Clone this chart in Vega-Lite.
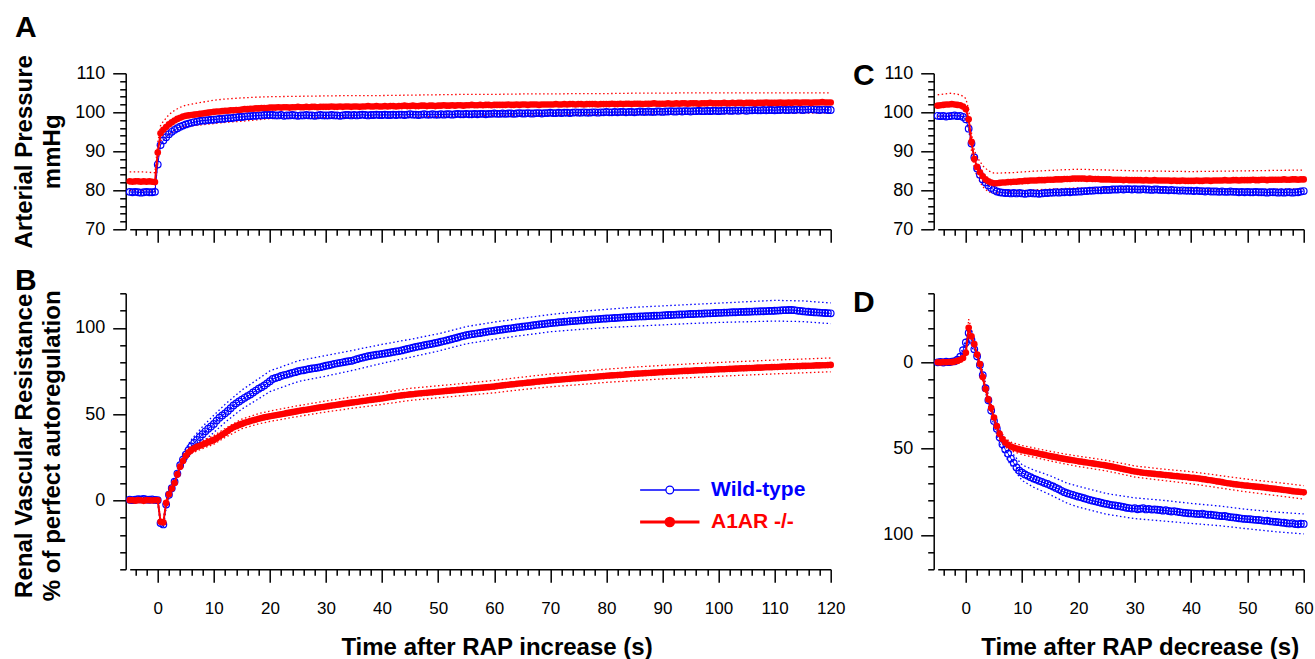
{
"$schema": "https://vega.github.io/schema/vega-lite/v6.json",
"autosize": {"type": "none"},
"padding": {"left": 129.7, "top": 73.3, "right": 1185.3, "bottom": 585.7},
"background": "#ffffff",
"config": {
  "font": "Liberation Sans",
  "view": {"stroke": null},
  "axis": {"grid": false, "domainColor": "#000000", "domainWidth": 1.5, "tickColor": "#000000", "tickWidth": 1.5, "labelColor": "#000000", "labelFont": "Liberation Sans", "labelFontSize": 17, "titleColor": "#000000", "titleFont": "Liberation Sans", "titleFontSize": 24, "titleFontWeight": "bold", "labelFlush": false, "labelOverlap": false},
  "title": {"font": "Liberation Sans", "fontSize": 30, "fontWeight": "bold", "color": "#000000", "anchor": "start", "frame": "group", "offset": 0, "baseline": "alphabetic"},
  "line": {"strokeCap": "butt"}
},
"datasets": {
"L": [
{"t":-5,"a":79.6,"k":82.3,"b":0.3,"r":0.1},{"t":-4.5,"a":79.5,"k":82.2,"b":0.1,"r":0.0},{"t":-4,"a":79.6,"k":82.3,"b":0.4,"r":-0.2},{"t":-3.5,"a":79.5,"k":82.3,"b":0.6,"r":0.1},{"t":-3,"a":79.4,"k":82.2,"b":0.5,"r":0.0},{"t":-2.5,"a":79.5,"k":82.3,"b":0.8,"r":-0.3},{"t":-2,"a":79.6,"k":82.2,"b":0.4,"r":0.1},{"t":-1.5,"a":79.5,"k":82.3,"b":0.3,"r":0.0},{"t":-1,"a":79.5,"k":82.2,"b":0.5,"r":-0.1},{"t":-0.5,"a":79.6,"k":82.1,"b":0.2,"r":0.0},
{"t":0,"a":86.6,"k":89.7,"b":0.1,"r":0.0},
{"t":0.5,"a":91.6,"k":94.6,"b":-13.2,"r":-12.5},{"t":1,"a":92.8,"k":95.5,"b":-14.0,"r":-12.8},{"t":1.5,"a":93.6,"k":96.2,"b":-2.5,"r":-1.5},{"t":2,"a":94.4,"k":96.9,"b":3.2,"r":3.5},{"t":2.5,"a":95.0,"k":97.4,"b":7.0,"r":6.8},{"t":3,"a":95.5,"k":97.9,"b":10.8,"r":10.0},{"t":3.5,"a":95.9,"k":98.3,"b":15.5,"r":15.0},{"t":4,"a":96.3,"k":98.6,"b":20.3,"r":19.5},{"t":4.5,"a":96.6,"k":98.9,"b":23.6,"r":22.8},{"t":5,"a":96.9,"k":99.1,"b":26.5,"r":25.8},
{"t":5.5,"a":97.1,"k":99.2,"b":29.0,"r":27.8},{"t":6,"a":97.3,"k":99.3,"b":31.2,"r":29.2},{"t":6.5,"a":97.5,"k":99.4,"b":33.2,"r":30.2},{"t":7,"a":97.6,"k":99.5,"b":35.0,"r":31.0},{"t":7.5,"a":97.8,"k":99.6,"b":36.7,"r":31.6},{"t":8,"a":97.9,"k":99.7,"b":38.3,"r":32.3},{"t":8.5,"a":97.9,"k":99.8,"b":40.0,"r":33.0},{"t":9,"a":98.0,"k":99.9,"b":41.5,"r":33.7},{"t":9.5,"a":98.1,"k":100.0,"b":42.8,"r":34.3},{"t":10,"a":98.1,"k":100.1,"b":44.3,"r":35.0},
{"t":10.5,"a":98.2,"k":100.2,"b":46.2,"r":36.0},{"t":11,"a":98.3,"k":100.2,"b":47.9,"r":37.0},{"t":11.5,"a":98.3,"k":100.3,"b":49.2,"r":38.0},{"t":12,"a":98.4,"k":100.4,"b":50.4,"r":39.0},{"t":12.5,"a":98.5,"k":100.4,"b":51.8,"r":40.2},{"t":13,"a":98.5,"k":100.5,"b":53.4,"r":41.3},{"t":13.5,"a":98.6,"k":100.5,"b":55.0,"r":42.3},{"t":14,"a":98.7,"k":100.6,"b":56.2,"r":43.0},{"t":14.5,"a":98.8,"k":100.6,"b":57.3,"r":43.7},{"t":15,"a":98.8,"k":100.7,"b":58.4,"r":44.3},
{"t":15.5,"a":98.9,"k":100.8,"b":59.4,"r":44.9},{"t":16,"a":99.0,"k":100.8,"b":60.4,"r":45.4},{"t":16.5,"a":99.0,"k":100.9,"b":61.3,"r":45.9},{"t":17,"a":99.1,"k":100.9,"b":62.5,"r":46.4},{"t":17.5,"a":99.1,"k":101.0,"b":63.6,"r":46.8},{"t":18,"a":99.2,"k":101.0,"b":64.7,"r":47.3},{"t":18.5,"a":99.2,"k":101.1,"b":65.6,"r":47.7},{"t":19,"a":99.3,"k":101.1,"b":66.6,"r":48.1},{"t":19.5,"a":99.3,"k":101.1,"b":67.8,"r":48.4},{"t":20,"a":99.3,"k":101.2,"b":69.0,"r":48.7},
{"t":20.5,"a":99.3,"k":101.2,"b":70.3,"r":49.0},{"t":21,"a":99.2,"k":101.2,"b":70.9,"r":49.3},{"t":21.5,"a":99.2,"k":101.3,"b":71.4,"r":49.6},{"t":22,"a":99.3,"k":101.2,"b":72.1,"r":49.9},{"t":22.5,"a":99.1,"k":101.3,"b":72.6,"r":50.2},{"t":23,"a":99.2,"k":101.3,"b":72.9,"r":50.5},{"t":23.5,"a":99.2,"k":101.2,"b":73.4,"r":50.8},{"t":24,"a":99.3,"k":101.3,"b":73.9,"r":51.1},{"t":24.5,"a":99.2,"k":101.3,"b":74.3,"r":51.4},{"t":25,"a":99.1,"k":101.4,"b":74.8,"r":51.7},
{"t":25.5,"a":99.2,"k":101.3,"b":75.2,"r":52.0},{"t":26,"a":99.2,"k":101.3,"b":75.4,"r":52.3},{"t":26.5,"a":99.3,"k":101.4,"b":75.8,"r":52.5},{"t":27,"a":99.2,"k":101.3,"b":76.1,"r":52.8},{"t":27.5,"a":99.2,"k":101.4,"b":76.4,"r":53.1},{"t":28,"a":99.1,"k":101.4,"b":76.6,"r":53.3},{"t":28.5,"a":99.2,"k":101.3,"b":76.9,"r":53.6},{"t":29,"a":99.3,"k":101.4,"b":77.2,"r":53.9},{"t":29.5,"a":99.2,"k":101.4,"b":77.6,"r":54.1},{"t":30,"a":99.2,"k":101.4,"b":78.0,"r":54.4},
{"t":30.5,"a":99.2,"k":101.4,"b":78.3,"r":54.6},{"t":31,"a":99.3,"k":101.5,"b":78.7,"r":54.9},{"t":31.5,"a":99.2,"k":101.4,"b":79.1,"r":55.1},{"t":32,"a":99.2,"k":101.4,"b":79.4,"r":55.4},{"t":32.5,"a":99.1,"k":101.5,"b":79.7,"r":55.6},{"t":33,"a":99.2,"k":101.4,"b":80.0,"r":55.9},{"t":33.5,"a":99.3,"k":101.5,"b":80.3,"r":56.1},{"t":34,"a":99.3,"k":101.5,"b":80.6,"r":56.3},{"t":34.5,"a":99.2,"k":101.4,"b":80.8,"r":56.6},{"t":35,"a":99.3,"k":101.5,"b":81.3,"r":56.8},
{"t":35.5,"a":99.2,"k":101.5,"b":81.8,"r":57.0},{"t":36,"a":99.3,"k":101.4,"b":82.3,"r":57.3},{"t":36.5,"a":99.4,"k":101.5,"b":82.7,"r":57.5},{"t":37,"a":99.3,"k":101.5,"b":83.1,"r":57.7},{"t":37.5,"a":99.2,"k":101.6,"b":83.5,"r":58.0},{"t":38,"a":99.3,"k":101.5,"b":83.8,"r":58.2},{"t":38.5,"a":99.3,"k":101.5,"b":84.1,"r":58.4},{"t":39,"a":99.4,"k":101.6,"b":84.4,"r":58.6},{"t":39.5,"a":99.3,"k":101.5,"b":84.6,"r":58.8},{"t":40,"a":99.3,"k":101.5,"b":84.9,"r":59.0},
{"t":40.5,"a":99.4,"k":101.6,"b":85.1,"r":59.3},{"t":41,"a":99.3,"k":101.5,"b":85.4,"r":59.6},{"t":41.5,"a":99.3,"k":101.6,"b":85.7,"r":59.9},{"t":42,"a":99.4,"k":101.6,"b":86.0,"r":60.1},{"t":42.5,"a":99.3,"k":101.5,"b":86.3,"r":60.4},{"t":43,"a":99.4,"k":101.6,"b":86.5,"r":60.6},{"t":43.5,"a":99.4,"k":101.6,"b":86.9,"r":60.8},{"t":44,"a":99.3,"k":101.7,"b":87.3,"r":61.0},{"t":44.5,"a":99.4,"k":101.6,"b":87.7,"r":61.2},{"t":45,"a":99.5,"k":101.6,"b":88.1,"r":61.4},
{"t":45.5,"a":99.4,"k":101.7,"b":88.5,"r":61.5},{"t":46,"a":99.4,"k":101.6,"b":88.9,"r":61.7},{"t":46.5,"a":99.3,"k":101.6,"b":89.2,"r":61.9},{"t":47,"a":99.4,"k":101.7,"b":89.5,"r":62.0},{"t":47.5,"a":99.5,"k":101.7,"b":89.9,"r":62.2},{"t":48,"a":99.4,"k":101.6,"b":90.2,"r":62.3},{"t":48.5,"a":99.4,"k":101.7,"b":90.5,"r":62.5},{"t":49,"a":99.5,"k":101.7,"b":90.8,"r":62.6},{"t":49.5,"a":99.4,"k":101.6,"b":91.2,"r":62.8},{"t":50,"a":99.4,"k":101.7,"b":91.5,"r":62.9},
{"t":50.5,"a":99.5,"k":101.7,"b":91.9,"r":63.1},{"t":51,"a":99.4,"k":101.8,"b":92.3,"r":63.2},{"t":51.5,"a":99.5,"k":101.7,"b":92.7,"r":63.4},{"t":52,"a":99.5,"k":101.7,"b":93.1,"r":63.5},{"t":52.5,"a":99.4,"k":101.8,"b":93.5,"r":63.7},{"t":53,"a":99.5,"k":101.7,"b":94.0,"r":63.8},{"t":53.5,"a":99.6,"k":101.8,"b":94.4,"r":64.0},{"t":54,"a":99.5,"k":101.8,"b":94.9,"r":64.1},{"t":54.5,"a":99.5,"k":101.7,"b":95.3,"r":64.3},{"t":55,"a":99.6,"k":101.8,"b":95.7,"r":64.4},
{"t":55.5,"a":99.5,"k":101.8,"b":96.0,"r":64.6},{"t":56,"a":99.5,"k":101.9,"b":96.3,"r":64.7},{"t":56.5,"a":99.6,"k":101.8,"b":96.5,"r":64.9},{"t":57,"a":99.5,"k":101.8,"b":96.8,"r":65.0},{"t":57.5,"a":99.6,"k":101.9,"b":97.0,"r":65.2},{"t":58,"a":99.6,"k":101.8,"b":97.3,"r":65.3},{"t":58.5,"a":99.5,"k":101.9,"b":97.6,"r":65.5},{"t":59,"a":99.6,"k":101.9,"b":97.9,"r":65.6},{"t":59.5,"a":99.6,"k":101.8,"b":98.1,"r":65.8},{"t":60,"a":99.7,"k":101.9,"b":98.3,"r":65.9},
{"t":60.5,"a":99.6,"k":101.9,"b":98.6,"r":66.2},{"t":61,"a":99.6,"k":101.9,"b":98.8,"r":66.4},{"t":61.5,"a":99.7,"k":101.9,"b":99.0,"r":66.6},{"t":62,"a":99.6,"k":101.9,"b":99.3,"r":66.8},{"t":62.5,"a":99.7,"k":102.0,"b":99.5,"r":67.0},{"t":63,"a":99.7,"k":101.9,"b":99.7,"r":67.2},{"t":63.5,"a":99.6,"k":101.9,"b":99.9,"r":67.3},{"t":64,"a":99.7,"k":102.0,"b":100.2,"r":67.5},{"t":64.5,"a":99.8,"k":101.9,"b":100.4,"r":67.7},{"t":65,"a":99.7,"k":102.0,"b":100.6,"r":67.8},
{"t":65.5,"a":99.7,"k":102.0,"b":100.8,"r":68.0},{"t":66,"a":99.8,"k":101.9,"b":101.0,"r":68.2},{"t":66.5,"a":99.7,"k":102.0,"b":101.2,"r":68.3},{"t":67,"a":99.7,"k":102.0,"b":101.5,"r":68.5},{"t":67.5,"a":99.8,"k":102.0,"b":101.7,"r":68.7},{"t":68,"a":99.8,"k":101.9,"b":101.9,"r":68.8},{"t":68.5,"a":99.7,"k":102.0,"b":102.1,"r":69.0},{"t":69,"a":99.8,"k":102.0,"b":102.3,"r":69.1},{"t":69.5,"a":99.8,"k":102.0,"b":102.5,"r":69.3},{"t":70,"a":99.9,"k":102.0,"b":102.7,"r":69.5},
{"t":70.5,"a":99.8,"k":102.0,"b":102.9,"r":69.6},{"t":71,"a":99.8,"k":102.1,"b":103.0,"r":69.8},{"t":71.5,"a":99.9,"k":102.0,"b":103.2,"r":69.9},{"t":72,"a":99.8,"k":102.0,"b":103.3,"r":70.0},{"t":72.5,"a":99.9,"k":102.1,"b":103.5,"r":70.2},{"t":73,"a":99.9,"k":102.0,"b":103.6,"r":70.3},{"t":73.5,"a":99.8,"k":102.1,"b":103.8,"r":70.4},{"t":74,"a":99.9,"k":102.1,"b":103.9,"r":70.6},{"t":74.5,"a":100.0,"k":102.0,"b":104.0,"r":70.7},{"t":75,"a":99.9,"k":102.1,"b":104.2,"r":70.8},
{"t":75.5,"a":99.9,"k":102.1,"b":104.3,"r":71.0},{"t":76,"a":100.0,"k":102.0,"b":104.4,"r":71.1},{"t":76.5,"a":99.9,"k":102.1,"b":104.6,"r":71.2},{"t":77,"a":99.9,"k":102.1,"b":104.7,"r":71.4},{"t":77.5,"a":100.0,"k":102.1,"b":104.8,"r":71.5},{"t":78,"a":100.0,"k":102.1,"b":104.9,"r":71.6},{"t":78.5,"a":99.9,"k":102.0,"b":105.0,"r":71.8},{"t":79,"a":100.0,"k":102.1,"b":105.2,"r":71.9},{"t":79.5,"a":100.0,"k":102.1,"b":105.3,"r":72.0},{"t":80,"a":100.1,"k":102.1,"b":105.4,"r":72.2},
{"t":80.5,"a":100.0,"k":102.1,"b":105.5,"r":72.3},{"t":81,"a":100.0,"k":102.2,"b":105.6,"r":72.4},{"t":81.5,"a":100.1,"k":102.1,"b":105.7,"r":72.5},{"t":82,"a":100.0,"k":102.1,"b":105.8,"r":72.6},{"t":82.5,"a":100.1,"k":102.2,"b":105.9,"r":72.7},{"t":83,"a":100.1,"k":102.1,"b":106.0,"r":72.8},{"t":83.5,"a":100.0,"k":102.2,"b":106.1,"r":73.0},{"t":84,"a":100.1,"k":102.2,"b":106.2,"r":73.1},{"t":84.5,"a":100.1,"k":102.1,"b":106.3,"r":73.2},{"t":85,"a":100.0,"k":102.2,"b":106.4,"r":73.3},
{"t":85.5,"a":100.1,"k":102.2,"b":106.5,"r":73.4},{"t":86,"a":100.2,"k":102.2,"b":106.6,"r":73.5},{"t":86.5,"a":100.1,"k":102.1,"b":106.6,"r":73.6},{"t":87,"a":100.1,"k":102.2,"b":106.7,"r":73.7},{"t":87.5,"a":100.2,"k":102.2,"b":106.8,"r":73.8},{"t":88,"a":100.1,"k":102.2,"b":106.9,"r":73.9},{"t":88.5,"a":100.1,"k":102.3,"b":107.0,"r":74.0},{"t":89,"a":100.2,"k":102.2,"b":107.0,"r":74.1},{"t":89.5,"a":100.2,"k":102.2,"b":107.1,"r":74.2},{"t":90,"a":100.1,"k":102.2,"b":107.2,"r":74.3},
{"t":90.5,"a":100.2,"k":102.2,"b":107.3,"r":74.4},{"t":91,"a":100.2,"k":102.3,"b":107.4,"r":74.5},{"t":91.5,"a":100.3,"k":102.2,"b":107.4,"r":74.5},{"t":92,"a":100.2,"k":102.2,"b":107.5,"r":74.6},{"t":92.5,"a":100.2,"k":102.3,"b":107.6,"r":74.7},{"t":93,"a":100.3,"k":102.2,"b":107.7,"r":74.8},{"t":93.5,"a":100.2,"k":102.3,"b":107.7,"r":74.9},{"t":94,"a":100.3,"k":102.3,"b":107.8,"r":75.0},{"t":94.5,"a":100.3,"k":102.2,"b":107.9,"r":75.0},{"t":95,"a":100.2,"k":102.3,"b":108.0,"r":75.1},
{"t":95.5,"a":100.3,"k":102.3,"b":108.0,"r":75.2},{"t":96,"a":100.3,"k":102.3,"b":108.1,"r":75.3},{"t":96.5,"a":100.4,"k":102.2,"b":108.2,"r":75.4},{"t":97,"a":100.3,"k":102.3,"b":108.2,"r":75.4},{"t":97.5,"a":100.3,"k":102.3,"b":108.3,"r":75.5},{"t":98,"a":100.4,"k":102.3,"b":108.4,"r":75.6},{"t":98.5,"a":100.3,"k":102.4,"b":108.4,"r":75.7},{"t":99,"a":100.4,"k":102.3,"b":108.5,"r":75.7},{"t":99.5,"a":100.4,"k":102.3,"b":108.6,"r":75.8},{"t":100,"a":100.3,"k":102.3,"b":108.7,"r":75.9},
{"t":100.5,"a":100.4,"k":102.3,"b":108.7,"r":76.0},{"t":101,"a":100.4,"k":102.4,"b":108.8,"r":76.0},{"t":101.5,"a":100.5,"k":102.3,"b":108.8,"r":76.1},{"t":102,"a":100.4,"k":102.3,"b":108.9,"r":76.2},{"t":102.5,"a":100.4,"k":102.4,"b":109.0,"r":76.2},{"t":103,"a":100.5,"k":102.3,"b":109.0,"r":76.3},{"t":103.5,"a":100.4,"k":102.4,"b":109.1,"r":76.4},{"t":104,"a":100.5,"k":102.4,"b":109.2,"r":76.5},{"t":104.5,"a":100.5,"k":102.3,"b":109.2,"r":76.5},{"t":105,"a":100.4,"k":102.4,"b":109.3,"r":76.6},
{"t":105.5,"a":100.5,"k":102.4,"b":109.3,"r":76.7},{"t":106,"a":100.5,"k":102.4,"b":109.4,"r":76.7},{"t":106.5,"a":100.6,"k":102.3,"b":109.5,"r":76.8},{"t":107,"a":100.5,"k":102.4,"b":109.5,"r":76.9},{"t":107.5,"a":100.5,"k":102.4,"b":109.6,"r":76.9},{"t":108,"a":100.6,"k":102.4,"b":109.6,"r":77.0},{"t":108.5,"a":100.5,"k":102.5,"b":109.7,"r":77.1},{"t":109,"a":100.6,"k":102.4,"b":109.8,"r":77.1},{"t":109.5,"a":100.6,"k":102.4,"b":109.8,"r":77.2},{"t":110,"a":100.5,"k":102.4,"b":109.9,"r":77.3},
{"t":110.5,"a":100.6,"k":102.4,"b":110.0,"r":77.3},{"t":111,"a":100.6,"k":102.5,"b":110.1,"r":77.4},{"t":111.5,"a":100.7,"k":102.4,"b":110.2,"r":77.5},{"t":112,"a":100.6,"k":102.4,"b":110.2,"r":77.5},{"t":112.5,"a":100.6,"k":102.5,"b":110.3,"r":77.6},{"t":113,"a":100.7,"k":102.4,"b":110.3,"r":77.6},{"t":113.5,"a":100.6,"k":102.5,"b":110.2,"r":77.7},{"t":114,"a":100.7,"k":102.5,"b":110.0,"r":77.8},{"t":114.5,"a":100.7,"k":102.4,"b":109.8,"r":77.8},{"t":115,"a":100.6,"k":102.5,"b":109.6,"r":77.9},
{"t":115.5,"a":100.7,"k":102.5,"b":109.4,"r":77.9},{"t":116,"a":100.7,"k":102.5,"b":109.3,"r":78.0},{"t":116.5,"a":100.8,"k":102.4,"b":109.1,"r":78.0},{"t":117,"a":100.7,"k":102.5,"b":109.0,"r":78.1},{"t":117.5,"a":100.7,"k":102.5,"b":108.9,"r":78.2},{"t":118,"a":100.6,"k":102.5,"b":108.8,"r":78.2},{"t":118.5,"a":100.7,"k":102.6,"b":108.7,"r":78.3},{"t":119,"a":100.7,"k":102.5,"b":108.6,"r":78.3},{"t":119.5,"a":100.6,"k":102.5,"b":108.5,"r":78.4},{"t":120,"a":100.6,"k":102.5,"b":108.4,"r":78.5}
],
"R": [
{"t":-5,"c":99.1,"q":101.7,"d":0.0,"e":0.0},{"t":-4.5,"c":99.0,"q":101.8,"d":-0.2,"e":0.1},{"t":-4,"c":99.1,"q":101.9,"d":0.1,"e":-0.1},{"t":-3.5,"c":98.9,"q":102.0,"d":-0.3,"e":0.0},{"t":-3,"c":99.0,"q":102.0,"d":-0.1,"e":-0.2},{"t":-2.5,"c":99.1,"q":102.1,"d":-0.4,"e":-0.1},{"t":-2,"c":99.2,"q":102.0,"d":-0.6,"e":-0.4},{"t":-1.5,"c":99.0,"q":101.9,"d":-1.5,"e":-0.8},{"t":-1,"c":99.1,"q":101.8,"d":-3.2,"e":-1.5},{"t":-0.5,"c":98.8,"q":101.5,"d":-7.0,"e":-2.5},
{"t":0,"c":98.2,"q":100.8,"d":-11.5,"e":-5.5},{"t":0.5,"c":95.8,"q":98.2,"d":-17.0,"e":-20.0},{"t":1,"c":92.0,"q":92.4,"d":-13.0,"e":-15.0},{"t":1.5,"c":88.4,"q":88.0,"d":-7.5,"e":-10.5},{"t":2,"c":85.6,"q":86.0,"d":-3.5,"e":-4.5},{"t":2.5,"c":84.0,"q":84.6,"d":1.5,"e":1.0},{"t":3,"c":82.8,"q":83.6,"d":7.5,"e":8.5},{"t":3.5,"c":82.0,"q":82.8,"d":15.0,"e":15.5},{"t":4,"c":81.2,"q":82.3,"d":22.0,"e":21.5},{"t":4.5,"c":80.6,"q":82.0,"d":28.0,"e":26.5},
{"t":5,"c":80.1,"q":81.8,"d":34.0,"e":32.0},{"t":5.5,"c":79.7,"q":81.8,"d":38.5,"e":37.0},{"t":6,"c":79.5,"q":81.9,"d":43.5,"e":41.5},{"t":6.5,"c":79.4,"q":82.0,"d":47.5,"e":44.5},{"t":7,"c":79.3,"q":82.0,"d":50.5,"e":46.5},{"t":7.5,"c":79.3,"q":82.1,"d":53.0,"e":47.8},{"t":8,"c":79.2,"q":82.1,"d":55.8,"e":48.8},{"t":8.5,"c":79.3,"q":82.2,"d":58.3,"e":49.5},{"t":9,"c":79.2,"q":82.2,"d":61.0,"e":50.0},{"t":9.5,"c":79.3,"q":82.3,"d":62.8,"e":50.5},
{"t":10,"c":79.2,"q":82.3,"d":64.0,"e":50.9},{"t":10.5,"c":79.1,"q":82.4,"d":65.0,"e":51.3},{"t":11,"c":79.2,"q":82.4,"d":65.8,"e":51.6},{"t":11.5,"c":79.3,"q":82.5,"d":66.6,"e":51.9},{"t":12,"c":79.2,"q":82.5,"d":67.4,"e":52.3},{"t":12.5,"c":79.2,"q":82.5,"d":68.0,"e":52.6},{"t":13,"c":79.1,"q":82.6,"d":68.7,"e":53.0},{"t":13.5,"c":79.2,"q":82.6,"d":69.3,"e":53.4},{"t":14,"c":79.3,"q":82.6,"d":70.0,"e":53.7},{"t":14.5,"c":79.3,"q":82.7,"d":70.5,"e":54.0},
{"t":15,"c":79.4,"q":82.7,"d":71.3,"e":54.4},{"t":15.5,"c":79.4,"q":82.7,"d":72.0,"e":54.7},{"t":16,"c":79.5,"q":82.8,"d":72.8,"e":55.0},{"t":16.5,"c":79.4,"q":82.8,"d":73.6,"e":55.4},{"t":17,"c":79.5,"q":82.8,"d":74.5,"e":55.7},{"t":17.5,"c":79.5,"q":82.9,"d":75.3,"e":56.0},{"t":18,"c":79.6,"q":82.9,"d":75.9,"e":56.3},{"t":18.5,"c":79.5,"q":82.9,"d":76.4,"e":56.6},{"t":19,"c":79.6,"q":83.0,"d":76.9,"e":56.8},{"t":19.5,"c":79.6,"q":83.0,"d":77.4,"e":57.1},
{"t":20,"c":79.7,"q":83.0,"d":77.9,"e":57.4},{"t":20.5,"c":79.7,"q":83.0,"d":78.3,"e":57.6},{"t":21,"c":79.8,"q":83.0,"d":78.8,"e":57.9},{"t":21.5,"c":79.8,"q":82.9,"d":79.3,"e":58.1},{"t":22,"c":79.9,"q":83.0,"d":79.8,"e":58.4},{"t":22.5,"c":79.9,"q":82.9,"d":80.2,"e":58.6},{"t":23,"c":80.0,"q":82.9,"d":80.6,"e":58.9},{"t":23.5,"c":80.0,"q":82.9,"d":81.0,"e":59.1},{"t":24,"c":80.0,"q":82.8,"d":81.4,"e":59.4},{"t":24.5,"c":80.1,"q":82.8,"d":81.8,"e":59.6},
{"t":25,"c":80.1,"q":82.8,"d":82.1,"e":59.9},{"t":25.5,"c":80.1,"q":82.8,"d":82.5,"e":60.2},{"t":26,"c":80.2,"q":82.7,"d":82.8,"e":60.5},{"t":26.5,"c":80.2,"q":82.7,"d":83.0,"e":60.9},{"t":27,"c":80.2,"q":82.7,"d":83.3,"e":61.2},{"t":27.5,"c":80.3,"q":82.7,"d":83.6,"e":61.6},{"t":28,"c":80.2,"q":82.6,"d":83.9,"e":61.9},{"t":28.5,"c":80.3,"q":82.7,"d":84.3,"e":62.3},{"t":29,"c":80.3,"q":82.6,"d":84.5,"e":62.6},{"t":29.5,"c":80.2,"q":82.6,"d":84.8,"e":63.0},
{"t":30,"c":80.3,"q":82.6,"d":84.6,"e":63.3},{"t":30.5,"c":80.2,"q":82.6,"d":85.2,"e":63.5},{"t":31,"c":80.2,"q":82.6,"d":84.9,"e":63.8},{"t":31.5,"c":80.3,"q":82.5,"d":84.6,"e":64.0},{"t":32,"c":80.2,"q":82.6,"d":85.3,"e":64.2},{"t":32.5,"c":80.2,"q":82.5,"d":85.0,"e":64.4},{"t":33,"c":80.1,"q":82.5,"d":85.4,"e":64.5},{"t":33.5,"c":80.2,"q":82.6,"d":85.3,"e":64.7},{"t":34,"c":80.2,"q":82.5,"d":85.5,"e":64.9},{"t":34.5,"c":80.1,"q":82.5,"d":85.6,"e":65.0},
{"t":35,"c":80.1,"q":82.5,"d":86.0,"e":65.2},{"t":35.5,"c":80.1,"q":82.5,"d":85.7,"e":65.4},{"t":36,"c":80.0,"q":82.5,"d":86.2,"e":65.5},{"t":36.5,"c":80.1,"q":82.4,"d":86.5,"e":65.7},{"t":37,"c":80.0,"q":82.5,"d":86.3,"e":65.9},{"t":37.5,"c":80.0,"q":82.4,"d":86.6,"e":66.0},{"t":38,"c":79.9,"q":82.4,"d":86.9,"e":66.2},{"t":38.5,"c":80.0,"q":82.5,"d":87.1,"e":66.4},{"t":39,"c":79.9,"q":82.4,"d":87.3,"e":66.5},{"t":39.5,"c":79.9,"q":82.4,"d":87.5,"e":66.7},
{"t":40,"c":79.9,"q":82.4,"d":87.6,"e":66.9},{"t":40.5,"c":79.8,"q":82.4,"d":87.7,"e":67.0},{"t":41,"c":79.9,"q":82.5,"d":87.9,"e":67.2},{"t":41.5,"c":79.8,"q":82.4,"d":88.0,"e":67.4},{"t":42,"c":79.8,"q":82.4,"d":87.7,"e":67.7},{"t":42.5,"c":79.7,"q":82.5,"d":88.2,"e":67.9},{"t":43,"c":79.8,"q":82.5,"d":88.4,"e":68.2},{"t":43.5,"c":79.7,"q":82.4,"d":88.3,"e":68.4},{"t":44,"c":79.7,"q":82.5,"d":88.6,"e":68.7},{"t":44.5,"c":79.7,"q":82.5,"d":88.8,"e":69.0},
{"t":45,"c":79.6,"q":82.5,"d":89.0,"e":69.2},{"t":45.5,"c":79.7,"q":82.5,"d":89.2,"e":69.5},{"t":46,"c":79.6,"q":82.6,"d":89.1,"e":69.8},{"t":46.5,"c":79.6,"q":82.5,"d":89.5,"e":70.1},{"t":47,"c":79.7,"q":82.5,"d":89.8,"e":70.3},{"t":47.5,"c":79.6,"q":82.6,"d":89.9,"e":70.6},{"t":48,"c":79.6,"q":82.6,"d":90.1,"e":70.8},{"t":48.5,"c":79.5,"q":82.5,"d":90.4,"e":71.0},{"t":49,"c":79.6,"q":82.6,"d":90.6,"e":71.2},{"t":49.5,"c":79.5,"q":82.6,"d":90.8,"e":71.4},
{"t":50,"c":79.6,"q":82.6,"d":90.9,"e":71.5},{"t":50.5,"c":79.5,"q":82.6,"d":91.0,"e":71.7},{"t":51,"c":79.5,"q":82.7,"d":91.2,"e":71.9},{"t":51.5,"c":79.6,"q":82.6,"d":91.3,"e":72.1},{"t":52,"c":79.5,"q":82.6,"d":91.4,"e":72.2},{"t":52.5,"c":79.5,"q":82.7,"d":91.6,"e":72.4},{"t":53,"c":79.5,"q":82.7,"d":91.9,"e":72.6},{"t":53.5,"c":79.4,"q":82.6,"d":91.8,"e":72.8},{"t":54,"c":79.5,"q":82.7,"d":92.2,"e":73.0},{"t":54.5,"c":79.5,"q":82.7,"d":92.4,"e":73.2},
{"t":55,"c":79.5,"q":82.7,"d":92.5,"e":73.4},{"t":55.5,"c":79.4,"q":82.7,"d":92.7,"e":73.6},{"t":56,"c":79.5,"q":82.7,"d":92.9,"e":73.8},{"t":56.5,"c":79.4,"q":82.8,"d":93.0,"e":74.0},{"t":57,"c":79.5,"q":82.7,"d":93.3,"e":74.2},{"t":57.5,"c":79.5,"q":82.7,"d":93.5,"e":74.4},{"t":58,"c":79.4,"q":82.8,"d":93.3,"e":74.7},{"t":58.5,"c":79.5,"q":82.8,"d":93.8,"e":74.9},{"t":59,"c":79.5,"q":82.7,"d":93.9,"e":75.0},{"t":59.5,"c":79.7,"q":82.8,"d":93.6,"e":75.2},
{"t":60,"c":79.8,"q":82.8,"d":93.7,"e":75.4}
],
"LB": [
{"t":-5,"khi":84.7,"klo":79.9,"bhi":1.8,"blo":-1.2,"rhi":0.9,"rlo":-0.7},
{"t":-2.5,"khi":84.7,"klo":79.9,"bhi":2.3,"blo":-0.7,"rhi":0.5,"rlo":-1.1},
{"t":-0.5,"khi":84.5,"klo":79.7,"bhi":1.7,"blo":-1.3,"rhi":0.8,"rlo":-0.8},
{"t":0,"khi":92.1,"klo":87.3,"bhi":1.6,"blo":-1.4,"rhi":0.8,"rlo":-0.8},
{"t":0.5,"khi":96.6,"klo":92.6,"bhi":-11.2,"blo":-15.2,"rhi":-11.0,"rlo":-14.0},
{"t":1,"khi":97.7,"klo":93.3,"bhi":-12.0,"blo":-16.0,"rhi":-11.3,"rlo":-14.3},
{"t":1.5,"khi":98.5,"klo":93.9,"bhi":-0.5,"blo":-4.5,"rhi":0.0,"rlo":-3.0},
{"t":2,"khi":99.4,"klo":94.4,"bhi":5.2,"blo":1.2,"rhi":5.2,"rlo":1.8},
{"t":3,"khi":100.5,"klo":95.3,"bhi":13.3,"blo":8.3,"rhi":12.0,"rlo":8.0},
{"t":4,"khi":101.3,"klo":95.9,"bhi":23.3,"blo":17.3,"rhi":21.5,"rlo":17.5},
{"t":5,"khi":101.8,"klo":96.4,"bhi":30.0,"blo":23.0,"rhi":27.8,"rlo":23.8},
{"t":6,"khi":102.1,"klo":96.5,"bhi":35.2,"blo":27.2,"rhi":31.2,"rlo":27.2},
{"t":8,"khi":102.6,"klo":96.8,"bhi":42.8,"blo":33.8,"rhi":34.6,"rlo":30.0},
{"t":10,"khi":103.1,"klo":97.1,"bhi":49.3,"blo":39.3,"rhi":37.5,"rlo":32.5},
{"t":12,"khi":103.4,"klo":97.4,"bhi":55.6,"blo":45.2,"rhi":41.6,"rlo":36.4},
{"t":15,"khi":103.7,"klo":97.7,"bhi":63.9,"blo":52.9,"rhi":47.1,"rlo":41.5},
{"t":18,"khi":103.9,"klo":98.1,"bhi":70.5,"blo":58.9,"rhi":50.3,"rlo":44.3},
{"t":20,"khi":104.0,"klo":98.4,"bhi":75.0,"blo":63.0,"rhi":51.7,"rlo":45.7},
{"t":25,"khi":104.1,"klo":98.5,"bhi":80.8,"blo":68.8,"rhi":54.8,"rlo":48.6},
{"t":30,"khi":104.2,"klo":98.6,"bhi":84.0,"blo":72.0,"rhi":57.6,"rlo":51.2},
{"t":35,"khi":104.3,"klo":98.7,"bhi":87.1,"blo":75.5,"rhi":60.1,"rlo":53.5},
{"t":40,"khi":104.3,"klo":98.7,"bhi":90.4,"blo":79.4,"rhi":62.4,"rlo":55.6},
{"t":45,"khi":104.4,"klo":98.8,"bhi":93.3,"blo":82.9,"rhi":64.9,"rlo":57.9},
{"t":50,"khi":104.5,"klo":98.9,"bhi":96.5,"blo":86.5,"rhi":66.4,"rlo":59.4},
{"t":55,"khi":104.6,"klo":99.0,"bhi":100.7,"blo":90.7,"rhi":67.9,"rlo":60.9},
{"t":60,"khi":104.6,"klo":99.2,"bhi":103.3,"blo":93.3,"rhi":69.5,"rlo":62.3},
{"t":65,"khi":104.7,"klo":99.3,"bhi":105.6,"blo":95.6,"rhi":71.4,"rlo":64.2},
{"t":70,"khi":104.7,"klo":99.3,"bhi":107.7,"blo":97.7,"rhi":73.2,"rlo":65.8},
{"t":75,"khi":104.8,"klo":99.4,"bhi":109.4,"blo":99.0,"rhi":74.6,"rlo":67.0},
{"t":80,"khi":104.8,"klo":99.4,"bhi":110.7,"blo":100.1,"rhi":76.0,"rlo":68.4},
{"t":85,"khi":104.9,"klo":99.5,"bhi":111.9,"blo":100.9,"rhi":77.2,"rlo":69.4},
{"t":90,"khi":104.9,"klo":99.5,"bhi":112.7,"blo":101.7,"rhi":78.2,"rlo":70.4},
{"t":95,"khi":105.0,"klo":99.6,"bhi":113.5,"blo":102.5,"rhi":79.1,"rlo":71.1},
{"t":100,"khi":105.0,"klo":99.6,"bhi":114.3,"blo":103.1,"rhi":79.9,"rlo":71.9},
{"t":105,"khi":105.0,"klo":99.7,"bhi":115.1,"blo":103.5,"rhi":80.6,"rlo":72.6},
{"t":110,"khi":105.0,"klo":99.7,"bhi":115.9,"blo":103.9,"rhi":81.3,"rlo":73.3},
{"t":115,"khi":105.0,"klo":99.8,"bhi":115.6,"blo":103.6,"rhi":81.9,"rlo":73.9},
{"t":120,"khi":105.0,"klo":99.8,"bhi":114.4,"blo":102.4,"rhi":82.5,"rlo":74.5}
],
"RB": [
{"t":-5,"qhi":104.5,"qlo":98.9,"dhi":0.5,"dlo":-0.5,"ehi":0.5,"elo":-0.5},
{"t":-2.5,"qhi":104.9,"qlo":99.3,"dhi":0.2,"dlo":-1.0,"ehi":0.4,"elo":-0.6},
{"t":-1,"qhi":104.5,"qlo":99.1,"dhi":-2.2,"dlo":-4.2,"ehi":-0.7,"elo":-2.3},
{"t":-0.5,"qhi":104.1,"qlo":98.9,"dhi":-5.5,"dlo":-8.5,"ehi":-1.5,"elo":-3.5},
{"t":0,"qhi":103.5,"qlo":98.1,"dhi":-9.5,"dlo":-13.5,"ehi":-3.5,"elo":-7.5},
{"t":0.5,"qhi":100.7,"qlo":95.7,"dhi":-14.0,"dlo":-20.0,"ehi":-15.0,"elo":-25.0},
{"t":1,"qhi":94.7,"qlo":90.1,"dhi":-10.0,"dlo":-16.0,"ehi":-11.0,"elo":-19.0},
{"t":1.5,"qhi":90.3,"qlo":85.7,"dhi":-5.0,"dlo":-10.0,"ehi":-7.5,"elo":-13.5},
{"t":2,"qhi":88.5,"qlo":83.5,"dhi":-1.5,"dlo":-5.5,"ehi":-2.0,"elo":-7.0},
{"t":3,"qhi":86.3,"qlo":80.9,"dhi":9.5,"dlo":5.5,"ehi":11.0,"elo":6.0},
{"t":4,"qhi":85.0,"qlo":79.6,"dhi":24.5,"dlo":19.5,"ehi":24.0,"elo":19.0},
{"t":5,"qhi":84.4,"qlo":79.2,"dhi":37.0,"dlo":31.0,"ehi":34.5,"elo":29.5},
{"t":6,"qhi":84.4,"qlo":79.4,"dhi":47.0,"dlo":40.0,"ehi":44.0,"elo":39.0},
{"t":7,"qhi":84.5,"qlo":79.5,"dhi":54.3,"dlo":46.7,"ehi":49.0,"elo":44.0},
{"t":8,"qhi":84.5,"qlo":79.7,"dhi":59.8,"dlo":51.8,"ehi":51.3,"elo":46.3},
{"t":10,"qhi":84.7,"qlo":79.9,"dhi":68.5,"dlo":59.5,"ehi":53.5,"elo":48.3},
{"t":12,"qhi":84.9,"qlo":80.1,"dhi":72.4,"dlo":62.4,"ehi":55.0,"elo":49.6},
{"t":15,"qhi":85.1,"qlo":80.3,"dhi":76.8,"dlo":65.8,"ehi":57.2,"elo":51.6},
{"t":18,"qhi":85.3,"qlo":80.5,"dhi":81.7,"dlo":70.1,"ehi":59.2,"elo":53.4},
{"t":20,"qhi":85.4,"qlo":80.6,"dhi":83.9,"dlo":71.9,"ehi":60.4,"elo":54.4},
{"t":25,"qhi":85.2,"qlo":80.4,"dhi":88.1,"dlo":76.1,"ehi":63.0,"elo":56.8},
{"t":30,"qhi":85.0,"qlo":80.2,"dhi":90.6,"dlo":78.6,"ehi":66.5,"elo":60.1},
{"t":35,"qhi":84.9,"qlo":80.1,"dhi":92.0,"dlo":80.0,"ehi":68.5,"elo":61.9},
{"t":40,"qhi":84.8,"qlo":80.0,"dhi":93.4,"dlo":81.8,"ehi":70.4,"elo":63.4},
{"t":45,"qhi":84.9,"qlo":80.1,"dhi":94.7,"dlo":83.3,"ehi":72.8,"elo":65.6},
{"t":50,"qhi":85.0,"qlo":80.2,"dhi":96.5,"dlo":85.3,"ehi":75.2,"elo":67.8},
{"t":55,"qhi":85.1,"qlo":80.3,"dhi":98.2,"dlo":86.8,"ehi":77.2,"elo":69.6},
{"t":60,"qhi":85.2,"qlo":80.4,"dhi":99.5,"dlo":87.9,"ehi":79.3,"elo":71.5}
]
},
"columns": 2,
"spacing": {"row": 64, "column": 107},
"bounds": "flush",
"resolve": {"scale": {"color": "independent"}, "legend": {"color": "independent"}},
"concat": [
{
  "width": 701, "height": 156,
  "title": {"text": "A", "anchor": "start", "dx": -114.7, "dy": -8},
  "encoding": {"x": {"field": "t", "type": "quantitative", "scale": {"domain": [-5, 120], "nice": false, "zero": false},
    "axis": {"title": null, "labels": false, "tickCount": 63, "tickSize": {"condition": {"test": "datum.value % 10 === 0", "value": 13}, "value": 6}}}},
  "layer": [
    {"data": {"name": "LB"}, "transform": [{"fold": ["khi", "klo"], "as": ["key", "v"]}],
     "mark": {"type": "line", "color": "#ff0000", "strokeWidth": 1.3, "strokeDash": [1.5, 2.5]},
     "encoding": {"y": {"field": "v", "type": "quantitative", "scale": {"domain": [70, 110], "nice": false, "zero": false},
        "axis": {"title": ["Arterial Pressure", "mmHg"], "tickCount": 20, "tickSize": {"condition": {"test": "datum.value % 10 === 0", "value": 13}, "value": 6}, "labelExpr": "datum.value % 10 === 0 ? datum.label : ''", "labelFontSize": 18, "labelPadding": 8, "offset": 4, "titleAngle": -90, "titleAlign": "center", "titleBaseline": "alphabetic", "titleLineHeight": 28, "titleX": -94, "titleY": 78}},
      "detail": {"field": "key", "type": "nominal"}}},
    {"data": {"name": "L"}, "mark": {"type": "line", "color": "#0000ff", "strokeWidth": 1}, "encoding": {"y": {"field": "a", "type": "quantitative"}}},
    {"data": {"name": "L"}, "mark": {"type": "point", "shape": "circle", "filled": false, "color": "#0000ff", "size": 44, "strokeWidth": 1.2, "opacity": 1}, "encoding": {"y": {"field": "a", "type": "quantitative"}}},
    {"data": {"name": "L"}, "mark": {"type": "line", "color": "#ff0000", "strokeWidth": 2}, "encoding": {"y": {"field": "k", "type": "quantitative"}}},
    {"data": {"name": "L"}, "mark": {"type": "point", "shape": "circle", "filled": true, "color": "#ff0000", "size": 44, "opacity": 1}, "encoding": {"y": {"field": "k", "type": "quantitative"}}}
  ]
},
{
  "width": 366, "height": 156,
  "title": {"text": "C", "anchor": "start", "dx": -84.6, "dy": 31},
  "encoding": {"x": {"field": "t", "type": "quantitative", "scale": {"domain": [-5, 60], "nice": false, "zero": false},
    "axis": {"title": null, "labels": false, "tickCount": 32, "tickSize": {"condition": {"test": "datum.value % 10 === 0", "value": 13}, "value": 6}}}},
  "layer": [
    {"data": {"name": "RB"}, "transform": [{"fold": ["qhi", "qlo"], "as": ["key", "v"]}],
     "mark": {"type": "line", "color": "#ff0000", "strokeWidth": 1.3, "strokeDash": [1.5, 2.5]},
     "encoding": {"y": {"field": "v", "type": "quantitative", "scale": {"domain": [70, 110], "nice": false, "zero": false},
        "axis": {"title": null, "tickCount": 20, "tickSize": {"condition": {"test": "datum.value % 10 === 0", "value": 13}, "value": 6}, "labelExpr": "datum.value % 10 === 0 ? datum.label : ''", "labelFontSize": 18, "labelPadding": 8, "offset": 4}},
      "detail": {"field": "key", "type": "nominal"}}},
    {"data": {"name": "R"}, "mark": {"type": "line", "color": "#0000ff", "strokeWidth": 1}, "encoding": {"y": {"field": "c", "type": "quantitative"}}},
    {"data": {"name": "R"}, "mark": {"type": "point", "shape": "circle", "filled": false, "color": "#0000ff", "size": 44, "strokeWidth": 1.2, "opacity": 1}, "encoding": {"y": {"field": "c", "type": "quantitative"}}},
    {"data": {"name": "R"}, "mark": {"type": "line", "color": "#ff0000", "strokeWidth": 2}, "encoding": {"y": {"field": "q", "type": "quantitative"}}},
    {"data": {"name": "R"}, "mark": {"type": "point", "shape": "circle", "filled": true, "color": "#ff0000", "size": 44, "opacity": 1}, "encoding": {"y": {"field": "q", "type": "quantitative"}}}
  ]
},
{
  "width": 701, "height": 276,
  "title": {"text": "B", "anchor": "start", "dx": -114.7, "dy": 16},
  "encoding": {"x": {"field": "t", "type": "quantitative", "scale": {"domain": [-5, 120], "nice": false, "zero": false},
    "axis": {"title": "Time after RAP increase (s)", "tickCount": 63, "tickSize": {"condition": {"test": "datum.value % 10 === 0", "value": 13}, "value": 6}, "labelExpr": "datum.value % 10 === 0 ? datum.label : ''", "labelPadding": 18, "titleX": 366.8, "titleY": 66, "titleBaseline": "top", "titleAlign": "center"}}},
  "layer": [
    {"data": {"name": "LB"}, "transform": [{"fold": ["bhi", "blo"], "as": ["key", "v"]}],
     "mark": {"type": "line", "color": "#0000ff", "strokeWidth": 1.3, "strokeDash": [1.5, 2.5]},
     "encoding": {"y": {"field": "v", "type": "quantitative", "scale": {"domain": [-40, 120], "nice": false, "zero": false},
        "axis": {"title": ["Renal Vascular Resistance", "% of perfect autoregulation"], "tickCount": 16, "tickSize": {"condition": {"test": "datum.value % 50 === 0", "value": 13}, "value": 6}, "labelExpr": "datum.value % 50 === 0 ? datum.label : ''", "labelFontSize": 18, "labelPadding": 8, "offset": 4, "titleAngle": -90, "titleAlign": "center", "titleBaseline": "alphabetic", "titleLineHeight": 28, "titleX": -94, "titleY": 152}},
      "detail": {"field": "key", "type": "nominal"}}},
    {"data": {"name": "LB"}, "transform": [{"fold": ["rhi", "rlo"], "as": ["key", "v"]}],
     "mark": {"type": "line", "color": "#ff0000", "strokeWidth": 1.3, "strokeDash": [1.5, 2.5]},
     "encoding": {"y": {"field": "v", "type": "quantitative"}, "detail": {"field": "key", "type": "nominal"}}},
    {"data": {"name": "L"}, "mark": {"type": "line", "strokeWidth": 1},
     "encoding": {"y": {"field": "b", "type": "quantitative"},
       "color": {"datum": "Wild-type", "type": "nominal", "scale": {"domain": ["Wild-type", "A1AR -/-"], "range": ["#0000ff", "#ff0000"]},
         "legend": {"title": null, "orient": "none", "legendX": 529.6, "legendY": 186.2, "padding": 0,
           "symbolType": "M-4.24,0H-0.55M0.55,0H4.24M-0.55,0A0.55,0.55,0,1,1,0.55,0A0.55,0.55,0,1,1,-0.55,0Z",
           "symbolSize": 196, "symbolStrokeWidth": 2, "symbolOpacity": 1,
           "labelFont": "Liberation Sans", "labelFontSize": 21, "labelFontWeight": "bold", "labelOffset": 30.7, "labelLimit": 0, "rowPadding": 10,
           "encode": {
             "symbols": {"update": {"fill": {"signal": "datum.value === 'Wild-type' ? '#ffffff' : '#ff0000'"}, "fillOpacity": {"signal": "datum.value === 'Wild-type' ? 0 : 1"}, "stroke": {"signal": "datum.value === 'Wild-type' ? '#0000ff' : '#ff0000'"}, "strokeWidth": {"signal": "datum.value === 'Wild-type' ? 1.3 : 3"}}},
             "labels": {"update": {"fill": {"signal": "datum.value === 'Wild-type' ? '#0000ff' : '#ff0000'"}}}
           }}}}},
    {"data": {"name": "L"}, "mark": {"type": "point", "shape": "circle", "filled": false, "size": 44, "strokeWidth": 1.2, "opacity": 1},
     "encoding": {"y": {"field": "b", "type": "quantitative"}, "color": {"datum": "Wild-type", "type": "nominal"}}},
    {"data": {"name": "L"}, "mark": {"type": "line", "strokeWidth": 2},
     "encoding": {"y": {"field": "r", "type": "quantitative"}, "color": {"datum": "A1AR -/-", "type": "nominal"}}},
    {"data": {"name": "L"}, "mark": {"type": "point", "shape": "circle", "filled": true, "size": 44, "opacity": 1},
     "encoding": {"y": {"field": "r", "type": "quantitative"}, "color": {"datum": "A1AR -/-", "type": "nominal"}}}
  ]
},
{
  "width": 366, "height": 276,
  "title": {"text": "D", "anchor": "start", "dx": -84.6, "dy": 38},
  "encoding": {"x": {"field": "t", "type": "quantitative", "scale": {"domain": [-5, 60], "nice": false, "zero": false},
    "axis": {"title": "Time after RAP decrease (s)", "tickCount": 32, "tickSize": {"condition": {"test": "datum.value % 10 === 0", "value": 13}, "value": 6}, "labelExpr": "datum.value % 10 === 0 ? datum.label : ''", "labelPadding": 18, "titleX": 202, "titleY": 66, "titleBaseline": "top", "titleAlign": "center"}}},
  "layer": [
    {"data": {"name": "RB"}, "transform": [{"fold": ["dhi", "dlo"], "as": ["key", "v"]}],
     "mark": {"type": "line", "color": "#0000ff", "strokeWidth": 1.3, "strokeDash": [1.5, 2.5]},
     "encoding": {"y": {"field": "v", "type": "quantitative", "scale": {"domain": [-40, 120], "nice": false, "zero": false, "reverse": true},
        "axis": {"title": null, "tickCount": 16, "tickSize": {"condition": {"test": "datum.value % 50 === 0", "value": 13}, "value": 6}, "labelExpr": "datum.value % 50 === 0 ? datum.label : ''", "labelFontSize": 18, "labelPadding": 8, "offset": 4}},
      "detail": {"field": "key", "type": "nominal"}}},
    {"data": {"name": "RB"}, "transform": [{"fold": ["ehi", "elo"], "as": ["key", "v"]}],
     "mark": {"type": "line", "color": "#ff0000", "strokeWidth": 1.3, "strokeDash": [1.5, 2.5]},
     "encoding": {"y": {"field": "v", "type": "quantitative"}, "detail": {"field": "key", "type": "nominal"}}},
    {"data": {"name": "R"}, "mark": {"type": "line", "color": "#0000ff", "strokeWidth": 1}, "encoding": {"y": {"field": "d", "type": "quantitative"}}},
    {"data": {"name": "R"}, "mark": {"type": "point", "shape": "circle", "filled": false, "color": "#0000ff", "size": 44, "strokeWidth": 1.2, "opacity": 1}, "encoding": {"y": {"field": "d", "type": "quantitative"}}},
    {"data": {"name": "R"}, "mark": {"type": "line", "color": "#ff0000", "strokeWidth": 2}, "encoding": {"y": {"field": "e", "type": "quantitative"}}},
    {"data": {"name": "R"}, "mark": {"type": "point", "shape": "circle", "filled": true, "color": "#ff0000", "size": 44, "opacity": 1}, "encoding": {"y": {"field": "e", "type": "quantitative"}}}
  ]
}
]
}
